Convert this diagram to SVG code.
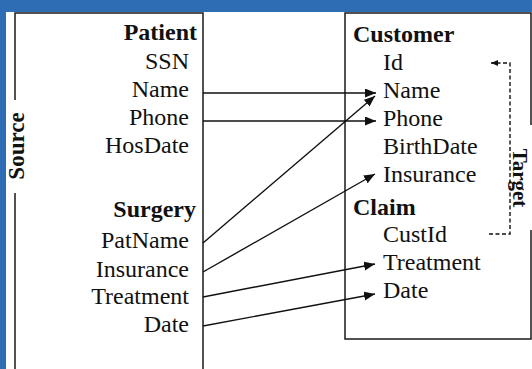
<svg xmlns="http://www.w3.org/2000/svg" width="532" height="369" viewBox="0 0 532 369">
  <style>
    .frame { fill: none; stroke: #1a1a1a; stroke-width: 1.5; }
    .head { font-family: "Liberation Serif", "Times New Roman", serif; font-size: 24px; font-weight: bold; fill: #111; }
    .attr { font-family: "Liberation Serif", "Times New Roman", serif; font-size: 24px; fill: #111; }
    .side { font-family: "Liberation Serif", "Times New Roman", serif; font-size: 23px; font-weight: bold; fill: #111; }
    .link { fill: none; stroke: #111; stroke-width: 1.4; }
    .dash { fill: none; stroke: #111; stroke-width: 1.4; stroke-dasharray: 4 2.5; }
  </style>
  <defs>
    <marker id="arrow" markerUnits="userSpaceOnUse" markerWidth="12" markerHeight="10" refX="11" refY="4.5" orient="auto">
      <path d="M0,0 L11,4.5 L0,9 z" fill="#111"/>
    </marker>
    <marker id="arrowSmall" markerUnits="userSpaceOnUse" markerWidth="8" markerHeight="6" refX="7" refY="3" orient="auto">
      <path d="M0,0 L7,3 L0,6 z" fill="#111"/>
    </marker>
  </defs>

  <!-- page background -->
  <rect x="0" y="0" width="532" height="369" fill="#2e6db4"/>
  <rect x="6" y="12" width="526" height="357" fill="#ffffff"/>

  <!-- source schema -->
  <g id="source">
    <path class="frame" d="M15,100 V13 H203 V369 M15,193 V369"/>
    <text class="side" transform="translate(24,146) rotate(-90)" text-anchor="middle">Source</text>
    <g id="patient">
      <text class="head" x="197" y="40" text-anchor="end">Patient</text>
      <text class="attr" x="189" y="69" text-anchor="end">SSN</text>
      <text class="attr" x="189" y="97" text-anchor="end">Name</text>
      <text class="attr" x="189" y="125" text-anchor="end">Phone</text>
      <text class="attr" x="189" y="153" text-anchor="end">HosDate</text>
    </g>
    <g id="surgery">
      <text class="head" x="196" y="217" text-anchor="end">Surgery</text>
      <text class="attr" x="189" y="248" text-anchor="end">PatName</text>
      <text class="attr" x="189" y="277" text-anchor="end">Insurance</text>
      <text class="attr" x="189" y="304" text-anchor="end">Treatment</text>
      <text class="attr" x="189" y="332" text-anchor="end">Date</text>
    </g>
  </g>

  <!-- target schema -->
  <g id="target">
    <path class="frame" d="M531,125 V13 H345 V339 H531 V230"/>
    <text class="side" style="font-size:21px" transform="translate(513,178) rotate(90)" text-anchor="middle">Target</text>
    <g id="customer">
      <text class="head" x="353" y="42">Customer</text>
      <text class="attr" x="383" y="70">Id</text>
      <text class="attr" x="383" y="98">Name</text>
      <text class="attr" x="383" y="126">Phone</text>
      <text class="attr" x="383" y="154">BirthDate</text>
      <text class="attr" x="383" y="182">Insurance</text>
    </g>
    <g id="claim">
      <text class="head" x="353" y="215">Claim</text>
      <text class="attr" x="383" y="242">CustId</text>
      <text class="attr" x="383" y="270">Treatment</text>
      <text class="attr" x="383" y="298">Date</text>
    </g>
  </g>

  <!-- mappings and the foreign-key reference -->
  <g id="connectors">
    <line class="link" x1="203" y1="93" x2="376" y2="93" marker-end="url(#arrow)"/>
    <line class="link" x1="203" y1="121" x2="376" y2="121" marker-end="url(#arrow)"/>
    <line class="link" x1="203" y1="243" x2="375" y2="96" marker-end="url(#arrow)"/>
    <line class="link" x1="203" y1="272" x2="375" y2="174" marker-end="url(#arrow)"/>
    <line class="link" x1="203" y1="297" x2="375" y2="264" marker-end="url(#arrow)"/>
    <line class="link" x1="203" y1="326" x2="375" y2="294" marker-end="url(#arrow)"/>
    <path class="dash" d="M489,234 H510 V63 H491" marker-end="url(#arrowSmall)"/>
  </g>
</svg>
